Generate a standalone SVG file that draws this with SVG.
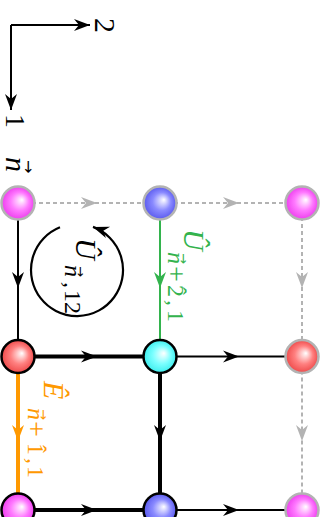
<svg xmlns="http://www.w3.org/2000/svg" width="326" height="517" viewBox="0 0 326 517">
<style>
.thin{fill:none;stroke:#000;stroke-width:2}
.thick{fill:none;stroke:#000;stroke-width:4}
.dash{fill:none;stroke:#b3b3b3;stroke-width:2;stroke-dasharray:4 3}
.mi{font-family:"Liberation Serif","DejaVu Serif",serif;font-style:italic}
.rm{font-family:"Liberation Serif","DejaVu Serif",serif}
.ar{font-family:"DejaVu Sans",sans-serif}
.ng{stroke:#b3b3b3;stroke-width:2.5}
.nb{stroke:#000;stroke-width:2.5}
</style>
<defs>
<radialGradient id="gM" cx="0.5" cy="0.5" r="0.5" fx="0.62" fy="0.4"><stop offset="0" stop-color="#ffffff"/><stop offset="0.55" stop-color="#ff7aff"/><stop offset="1" stop-color="#ee3dee"/></radialGradient>
<radialGradient id="gB" cx="0.5" cy="0.5" r="0.5" fx="0.62" fy="0.4"><stop offset="0" stop-color="#ffffff"/><stop offset="0.55" stop-color="#8a8aff"/><stop offset="1" stop-color="#5a5aee"/></radialGradient>
<radialGradient id="gR" cx="0.5" cy="0.5" r="0.5" fx="0.62" fy="0.4"><stop offset="0" stop-color="#ffffff"/><stop offset="0.55" stop-color="#ff8080"/><stop offset="1" stop-color="#ee4a4a"/></radialGradient>
<radialGradient id="gC" cx="0.5" cy="0.5" r="0.5" fx="0.62" fy="0.4"><stop offset="0" stop-color="#ffffff"/><stop offset="0.55" stop-color="#7affff"/><stop offset="1" stop-color="#3deeee"/></radialGradient>
<marker id="aK" viewBox="-17 -7 18 14" refX="0" refY="0" markerWidth="18" markerHeight="14" markerUnits="userSpaceOnUse" orient="auto"><path d="M0 0 L-16 -6 L-11 0 L-16 6 Z" fill="#000"/></marker>
<marker id="aG" viewBox="-17 -7 18 14" refX="0" refY="0" markerWidth="18" markerHeight="14" markerUnits="userSpaceOnUse" orient="auto"><path d="M0 0 L-16 -6 L-11 0 L-16 6 Z" fill="#b3b3b3"/></marker>
<marker id="aN" viewBox="-17 -7 18 14" refX="0" refY="0" markerWidth="18" markerHeight="14" markerUnits="userSpaceOnUse" orient="auto"><path d="M0 0 L-16 -6 L-11 0 L-16 6 Z" fill="#33b34d"/></marker>
<marker id="aO" viewBox="-17 -7 18 14" refX="0" refY="0" markerWidth="18" markerHeight="14" markerUnits="userSpaceOnUse" orient="auto"><path d="M0 0 L-16 -6 L-11 0 L-16 6 Z" fill="#ff9900"/></marker>
</defs>

<g id="axes">
<path class="thin" d="M11 25 L90 25" marker-end="url(#aK)"/>
<path class="thin" d="M11 25 L11 110" marker-end="url(#aK)"/>
<text class="rm" font-size="30" transform="translate(95,18) rotate(90)">2</text>
<text class="rm" font-size="28" transform="translate(6,114) rotate(90)">1</text>
</g>

<g id="connectors">
<path class="dash" d="M18 203 L97 203 L160 203" marker-mid="url(#aG)"/>
<path class="dash" d="M160 203 L239 203 L302 203" marker-mid="url(#aG)"/>
<path class="dash" d="M302 203 L302 288 L302 356.5" marker-mid="url(#aG)"/>
<path class="dash" d="M302 356.5 L302 441 L302 510" marker-mid="url(#aG)"/>
<path class="thin" d="M18 203 L18 288 L18 356.5" marker-mid="url(#aK)"/>
<path fill="none" stroke="#33b34d" stroke-width="2" d="M160 203 L160 288 L160 356.5" marker-mid="url(#aN)"/>
<path fill="none" stroke="#ff9900" stroke-width="4" d="M18 356.5 L18 441 L18 510" marker-mid="url(#aO)"/>
<path class="thick" d="M160 356.5 L160 441 L160 510" marker-mid="url(#aK)"/>
<path class="thick" d="M18 356.5 L97 356.5 L160 356.5" marker-mid="url(#aK)"/>
<path class="thin" d="M160 356.5 L239 356.5 L302 356.5" marker-mid="url(#aK)"/>
<path class="thick" d="M18 510 L97 510 L160 510" marker-mid="url(#aK)"/>
<path class="thin" d="M160 510 L239 510 L302 510" marker-mid="url(#aK)"/>
<path fill="none" stroke="#000" stroke-width="2.2" d="M60 227.3 A46 46 0 1 0 93 226.9" marker-end="url(#aK)"/>
</g>

<g id="node-r1c1"><circle cx="18" cy="203" r="16.5" fill="url(#gM)" class="ng"/></g>
<g id="node-r1c2"><circle cx="160" cy="203" r="16.5" fill="url(#gB)" class="ng"/></g>
<g id="node-r1c3"><circle cx="302" cy="203" r="16.5" fill="url(#gM)" class="ng"/></g>
<g id="node-r2c1"><circle cx="18" cy="356.5" r="16.5" fill="url(#gR)" class="nb"/></g>
<g id="node-r2c2"><circle cx="160" cy="356.5" r="16.5" fill="url(#gC)" class="nb"/></g>
<g id="node-r2c3"><circle cx="302" cy="356.5" r="16.5" fill="url(#gR)" class="ng"/></g>
<g id="node-r3c1"><circle cx="18" cy="510" r="16.5" fill="url(#gM)" class="nb"/></g>
<g id="node-r3c2"><circle cx="160" cy="510" r="16.5" fill="url(#gB)" class="nb"/></g>
<g id="node-r3c3"><circle cx="302" cy="510" r="16.5" fill="url(#gM)" class="ng"/></g>

<g id="label-n" transform="translate(6,157) rotate(90)">
<text class="mi" font-size="30" x="0" y="0">n</text>
<text class="ar" font-size="16" x="3" y="-17">→</text>
</g>

<g id="label-U12" transform="translate(76,238) rotate(90)">
<text class="mi" font-size="30" x="0" y="0">Û</text>
<text class="mi" font-size="24" x="27" y="11">n</text>
<text class="ar" font-size="13" x="28" y="0.5">→</text>
<text class="mi" font-size="24" x="44" y="11">,</text>
<text class="rm" font-size="24" x="52" y="11">12</text>
</g>

<g id="label-U21" transform="translate(184,229) rotate(90)" fill="#33b34d">
<text class="mi" font-size="30" x="0" y="0">Û</text>
<text class="mi" font-size="24" x="23" y="16">n</text>
<text class="ar" font-size="13" x="24" y="5.5">→</text>
<text class="rm" font-size="28" x="37" y="17">+</text>
<text class="rm" font-size="24" x="56" y="16">2</text>
<text class="rm" font-size="24" x="58" y="14">ˆ</text>
<text class="mi" font-size="24" x="71" y="16">,</text>
<text class="rm" font-size="24" x="81" y="16">1</text>
</g>

<g id="label-E11" transform="translate(44,381) rotate(90)" fill="#ff9900">
<text class="mi" font-size="30" x="0" y="0">Ê</text>
<text class="mi" font-size="24" x="27" y="16">n</text>
<text class="ar" font-size="13" x="28" y="5.5">→</text>
<text class="rm" font-size="28" x="40" y="17">+</text>
<text class="rm" font-size="24" x="62" y="16">1</text>
<text class="rm" font-size="24" x="64" y="14">ˆ</text>
<text class="mi" font-size="24" x="77" y="16">,</text>
<text class="rm" font-size="24" x="85" y="16">1</text>
</g>
</svg>
